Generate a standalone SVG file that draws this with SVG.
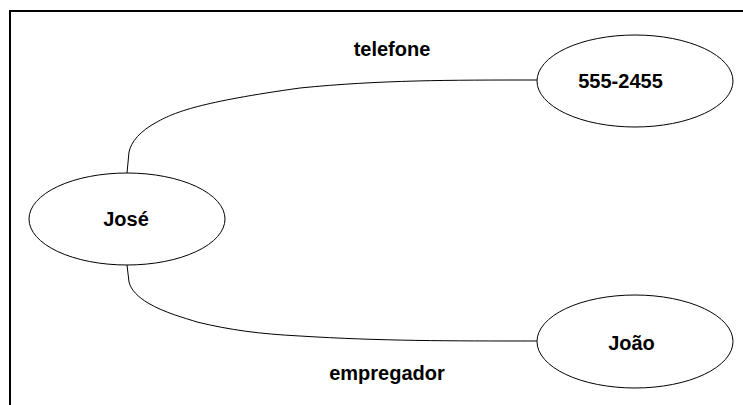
<svg xmlns="http://www.w3.org/2000/svg" width="743" height="405" viewBox="0 0 743 405">
<style>
.n{fill:#fff;stroke:#000;stroke-width:1}
.t{font-family:"Liberation Sans",Arial,sans-serif;font-weight:bold;font-size:20px;fill:#000;text-anchor:middle}
.c{fill:none;stroke:#000;stroke-width:1}
</style>
<rect x="0" y="0" width="743" height="405" fill="#fff"/>
<rect x="10" y="11" width="800" height="500" fill="none" stroke="#000" stroke-width="2"/>
<g id="connectors">
<path class="c" d="M127,173 L129,152 C131,142 140,131 157,122 C175,112 200,102 300,88 C380,80 450,80 537,80"/>
<path class="c" d="M127,265 L129,282 C131,290 138,297 148,303 C165,313 185,318 197,322 C230,330 260,334 300,336 C380,341 450,341 537,341"/>
<text class="t" x="392" y="56">telefone</text>
<text class="t" x="387" y="380">empregador</text>
</g>
<g id="jose">
<ellipse class="n" cx="127" cy="219" rx="98" ry="46"/>
<text class="t" x="126" y="226">José</text>
</g>
<g id="telefone-valor">
<ellipse class="n" cx="635" cy="81" rx="98" ry="46"/>
<text class="t" x="620.5" y="88">555-2455</text>
</g>
<g id="joao">
<ellipse class="n" cx="635" cy="341.5" rx="98" ry="46.5"/>
<text class="t" x="631.5" y="350">João</text>
</g>
</svg>
